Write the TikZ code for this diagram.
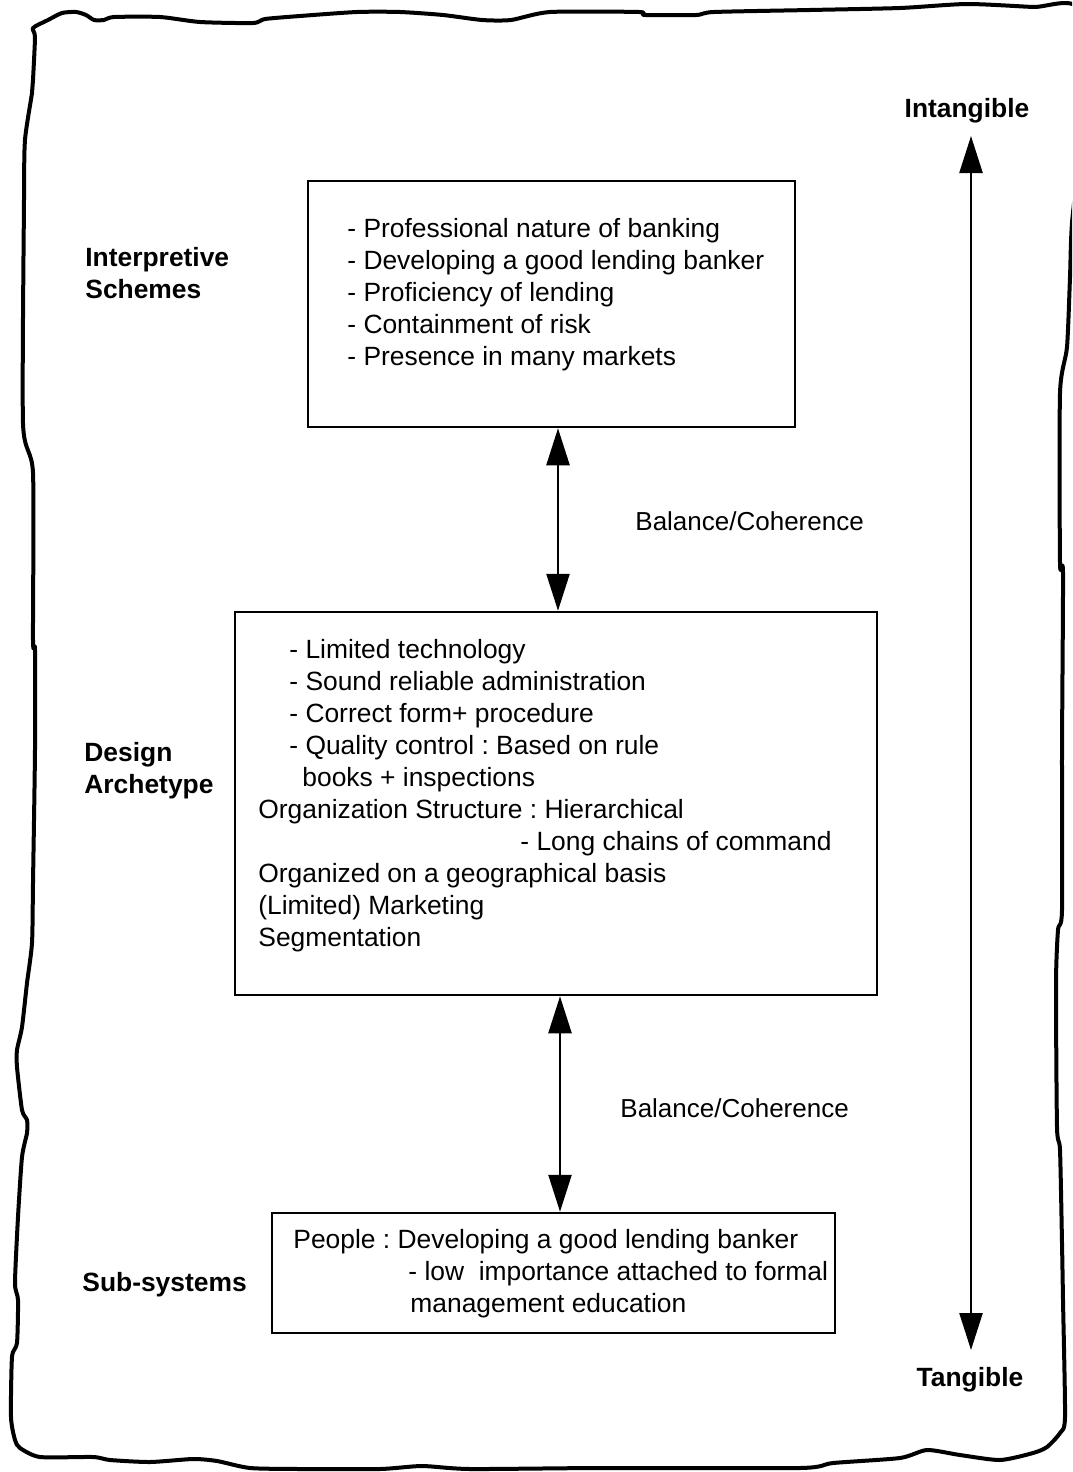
\documentclass[tikz,border=0pt]{standalone}
\usepackage{fontspec}
\setmainfont{Liberation Sans}
\usetikzlibrary{arrows.meta}
\frenchspacing
\tikzset{
  framebox/.style={draw, line width=1.25pt, inner sep=0pt},
  blocktext/.style={anchor=north west, inner sep=0pt, align=left,
    font=\fontsize{13.2}{16}\selectfont},
  levellabel/.style={anchor=north west, inner sep=0pt, align=left,
    font=\fontsize{13.2}{16}\selectfont\bfseries},
  axislabel/.style={inner sep=0pt, font=\fontsize{13.2}{16}\selectfont\bfseries},
  linklabel/.style={anchor=west, inner sep=0pt, font=\fontsize{13}{16}\selectfont},
  biarrow/.style={line width=1.2pt,
    {Triangle[length=18.5pt,width=11.5pt]}-{Triangle[length=18.5pt,width=11.5pt]}},
  sketchframe/.style={line width=2pt, line join=round}
}
\begin{document}
\begin{tikzpicture}[x=0.5pt,y=-0.5pt]
\useasboundingbox (0,0) rectangle (1072,1472);
\clip (0,0) rectangle (1072,1472);

% hand-drawn outer frame
\draw[sketchframe] plot[smooth cycle, tension=0.4] coordinates {
 (33,28) (48,20) (62,13) (76,12) (86,15) (94,20) (104,20) (114,17) (160,17)
 (200,22) (253,23) (265,19) (300,16) (357,12) (400,12) (443,15) (482,20)
 (511,20) (550,12) (639,12) (645,15) (696,15) (714,12) (810,10) (900,8)
 (967,4) (1033,7) (1078,9) (1082,120) (1072,223) (1070,277) (1067,347)
 (1060,393) (1060,563) (1063,573) (1062,750) (1062,910) (1058,930)
 (1056,983) (1057,1127) (1060,1150) (1062,1243) (1063,1300) (1065,1417)
 (1060,1433) (1047,1447) (1033,1453) (1000,1460) (960,1455) (927,1450)
 (900,1458) (833,1463) (800,1468) (600,1468) (470,1469) (422,1466)
 (380,1469) (300,1469) (250,1468) (217,1461) (193,1459) (150,1462)
 (110,1460) (93,1457) (40,1457) (20,1448) (15,1440) (11,1417) (12,1357)
 (17,1343) (18,1300) (15,1283) (18,1217) (22,1157) (27,1133) (27,1120)
 (22,1110) (17,1067) (17,1050) (22,1027) (27,983) (32,943) (33,883)
 (35,750) (35,650) (33,640) (33,473) (23,423) (24,200) (25,140) (32,93)
 (33,80) (35,37)};

% the three level boxes
\node[framebox, minimum width=243.5pt, minimum height=123pt] (schemes) at (551.5,304) {};
\node[framebox, minimum width=321pt, minimum height=191.5pt] (archetype) at (556,803.5) {};
\node[framebox, minimum width=281.5pt, minimum height=60pt] (subsys) at (553.5,1273) {};

% box contents
\node[blocktext] (schemestext) at (347,218) {%
- Professional nature of banking\\
- Developing a good lending banker\\
- Proficiency of lending\\
- Containment of risk\\
- Presence in many markets};

\node[blocktext] (archetypetext) at (258,639) {%
\hspace*{15.5pt}- Limited technology\\
\hspace*{15.5pt}- Sound reliable administration\\
\hspace*{15.5pt}- Correct form+ procedure\\
\hspace*{15.5pt}- Quality control : Based on rule\\
\hspace*{22pt}books + inspections\\
Organization Structure : Hierarchical\\
\hspace*{131pt}- Long chains of command\\
Organized on a geographical basis\\
(Limited) Marketing\\
Segmentation};

\node[blocktext] (subsystext) at (293,1229) {%
People : Developing a good lending banker\\
\hspace*{57.5pt}- low\ \ importance attached to formal\\
\hspace*{58.5pt}management education};

% level labels
\node[levellabel] (lblschemes) at (85,247) {Interpretive\\Schemes};
\node[levellabel] (lblarchetype) at (84,742) {Design\\Archetype};
\node[levellabel] (lblsubsys) at (82,1272) {Sub-systems};

% links between levels
\draw[biarrow] ([xshift=3.25pt]schemes.south) -- ([xshift=1pt]archetype.north);
\draw[biarrow] ([xshift=2pt]archetype.south) -- ([xshift=3.25pt]subsys.north);
\node[linklabel] (link1) at (635,521) {Balance/Coherence};
\node[linklabel] (link2) at (620,1108) {Balance/Coherence};

% intangible--tangible axis
\node[axislabel] (intangible) at (967,111) {Intangible};
\node[axislabel] (tangible) at (970,1380) {Tangible};
\coordinate (axistop) at (971,136);
\coordinate (axisbottom) at (971,1350);
\draw[biarrow] (axistop) -- (axisbottom);
\end{tikzpicture}
\end{document}
